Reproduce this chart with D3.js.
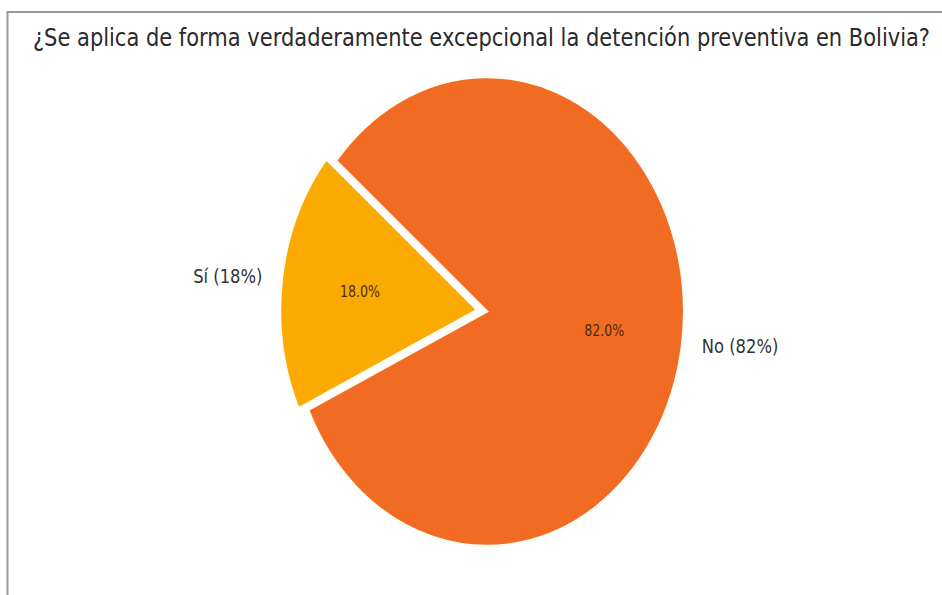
<!DOCTYPE html>
<html>
<head>
<meta charset="utf-8">
<script src="https://cdn.jsdelivr.net/npm/d3@7/dist/d3.min.js"></script>
<style>
  html, body { margin: 0; padding: 0; background: #fff; }
  svg { display: block; }
  text { font-family: "DejaVu Sans", sans-serif; }
</style>
</head>
<body>
<svg id="chart" width="942" height="595"></svg>
<script>
// Survey answers
const categories = ["Sí", "No"];
const values = [18, 82];
const explode = [0.05, 0];
const colors = ["#FBAA02", "#F26B22"];
const titleText = "¿Se aplica de forma verdaderamente excepcional la detención preventiva en Bolivia?";

const W = 942, H = 595;
const sx = 0.84;           // horizontal squeeze of the whole figure
const cxOuter = 487, cy = 311.5, r = 234.5;
const startDeg = 140;      // first wedge starts here, counter-clockwise from 3 o'clock

const svg = d3.select("#chart");

// frame
svg.append("path")
  .attr("d", `M7.5,${H + 5} V12 H${W + 5}`)
  .attr("fill", "none")
  .attr("stroke", "#9a9a9a")
  .attr("stroke-width", 2);

const g = svg.append("g").attr("transform", `scale(${sx},1)`);
const cx = cxOuter / sx;

// title, fitted to its span
const title = g.append("text")
  .attr("x", 481.5 / sx)
  .attr("y", 46)
  .attr("text-anchor", "middle")
  .attr("fill", "#2a2a2a")
  .attr("font-size", 20)
  .text(titleText);
const targetW = (930 - 33) / sx;
const tw = title.node().getComputedTextLength();
title.attr("font-size", 20 * targetW / tw);

const toRad = d => d * Math.PI / 180;
const pie = d3.pie()
  .sort(null)
  .value(d => d)
  .startAngle(toRad(90 - startDeg))
  .endAngle(toRad(90 - startDeg - 360));

const arcs = pie(values);
const arc = d3.arc().innerRadius(0).outerRadius(r);
const total = d3.sum(values);

arcs.forEach((a, i) => {
  const mid = (a.startAngle + a.endAngle) / 2;
  const ux = Math.sin(mid), uy = -Math.cos(mid);
  const ox = cx + explode[i] * r * ux;
  const oy = cy + explode[i] * r * uy;
  const wg = g.append("g").attr("transform", `translate(${ox},${oy})`);
  wg.append("path")
    .attr("d", arc(a))
    .attr("fill", colors[i])
    .attr("stroke", "#fffdf5")
    .attr("stroke-width", 2.5)
    .attr("stroke-linejoin", "miter");

  // percentage inside the wedge
  wg.append("text")
    .attr("x", 0.6 * r * ux)
    .attr("y", 0.6 * r * uy)
    .attr("text-anchor", "middle")
    .attr("dominant-baseline", "central")
    .attr("font-size", 15)
    .attr("fill", "#4a2a12")
    .text((100 * values[i] / total).toFixed(1) + "%");

  // category label outside
  wg.append("text")
    .attr("x", 1.1 * r * ux)
    .attr("y", 1.1 * r * uy)
    .attr("text-anchor", ux > 0 ? "start" : "end")
    .attr("dominant-baseline", "central")
    .attr("font-size", 19.5)
    .attr("fill", "#333")
    .text(`${categories[i]} (${Math.round(100 * values[i] / total)}%)`);
});
</script>
</body>
</html>
